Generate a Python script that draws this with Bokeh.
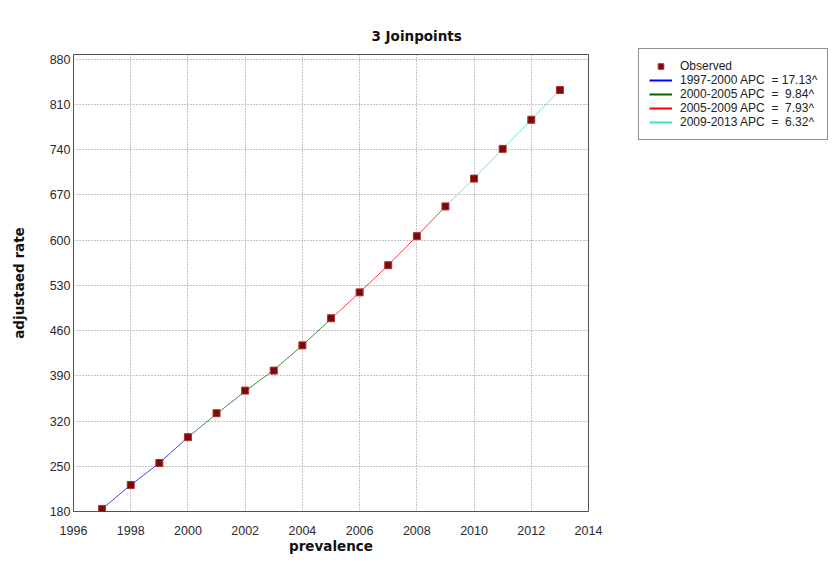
from bokeh.plotting import figure
from bokeh.models import Legend, LegendItem, FixedTicker, Range1d, Title
from bokeh.embed import file_html
from bokeh.resources import INLINE

# ---- data ----
years = [1997, 1998, 1999, 2000, 2001, 2002, 2003, 2004, 2005,
         2006, 2007, 2008, 2009, 2010, 2011, 2012, 2013]
observed = [184, 221, 255, 295, 332, 367, 398, 437, 479,
            519, 561, 606, 652, 695, 741, 786, 832]
fitted = [184, 221, 255, 295, 331, 366, 399, 437, 478,
          519, 561, 606, 652, 695, 741, 786, 832]

segments = [(1997, 2000), (2000, 2005), (2005, 2009), (2009, 2013)]
segment_labels = ["1997-2000 APC  = 17.13^", "2000-2005 APC  =  9.84^",
                  "2005-2009 APC  =  7.93^", "2009-2013 APC  =  6.32^"]
segment_colors = ["#0000ff", "#006400", "#ff0000", "#40e0d0"]

x_ticks = [1996, 1998, 2000, 2002, 2004, 2006, 2008, 2010, 2012, 2014]
y_ticks = [180, 250, 320, 390, 460, 530, 600, 670, 740, 810, 880]

p = figure(width=822, height=553, output_backend="svg", toolbar_location=None,
           x_range=Range1d(1996, 2014), y_range=Range1d(180, 887),
           frame_width=515, frame_height=457,
           min_border_left=73, min_border_top=54, min_border_bottom=42,
           min_border_right=234)

p.background_fill_color = "white"
p.border_fill_color = "white"
p.outline_line_color = "#505050"
p.outline_line_width = 1

# grid
for g in (p.xgrid[0], p.ygrid[0]):
    g.grid_line_color = "#8a8a8a"
    g.grid_line_dash = "1 2"
    g.grid_line_width = 1
p.xaxis.ticker = FixedTicker(ticks=x_ticks)
p.yaxis.ticker = FixedTicker(ticks=y_ticks)

for ax in (p.xaxis[0], p.yaxis[0]):
    ax.axis_line_color = None
    ax.major_tick_line_color = None
    ax.minor_tick_line_color = None
    ax.major_tick_out = 0
    ax.major_tick_in = 0
    ax.major_label_text_font = "Liberation Sans"
    ax.major_label_text_font_size = "12.5px"
    ax.major_label_text_color = "#2a2a2a"
    ax.axis_label_text_font = "DejaVu Sans"
    ax.axis_label_text_font_style = "bold"
    ax.axis_label_text_font_size = "13.5px"
    ax.axis_label_text_color = "#111111"

p.xaxis.axis_label = "prevalence"
p.yaxis.axis_label = "adjustaed rate"
p.xaxis.major_label_standoff = 14
p.yaxis.major_label_standoff = 3
p.xaxis.axis_label_standoff = 0
p.yaxis.axis_label_standoff = 20

# title
t = Title(text="3 Joinpoints", align="left", offset=298,
          text_font="DejaVu Sans", text_font_style="bold",
          text_font_size="13.5px", text_color="#111111", standoff=22)
p.add_layout(t, "above")

# fitted segments
for (a, b), col in zip(segments, segment_colors):
    xs = [x for x in years if a <= x <= b]
    ys = [fitted[years.index(x)] for x in xs]
    p.line(xs, ys, line_color=col, line_width=1, line_alpha=0.75)

# observed points
obs = p.scatter(years, observed, marker="square", size=7,
                fill_color="#7a0a0a", line_color="#b03030", line_width=1)

items = [LegendItem(label="Observed", renderers=[obs])]
for lab, col in zip(segment_labels, segment_colors):
    rr = p.line([1990, 1991], [0, 0], line_color=col, line_width=2)
    items.append(LegendItem(label=lab, renderers=[rr]))

legend = Legend(items=items, location=(50, 371),
                label_text_font="Liberation Sans", label_text_font_size="12px",
                label_text_color="#222222", glyph_width=23, glyph_height=14,
                label_height=14, label_standoff=8, spacing=0, padding=10,
                border_line_color="#222222", border_line_width=1,
                background_fill_color="white", background_fill_alpha=1.0,
                margin=0)
p.add_layout(legend, "right")

open("out.html", "w").write(file_html(p, INLINE))
